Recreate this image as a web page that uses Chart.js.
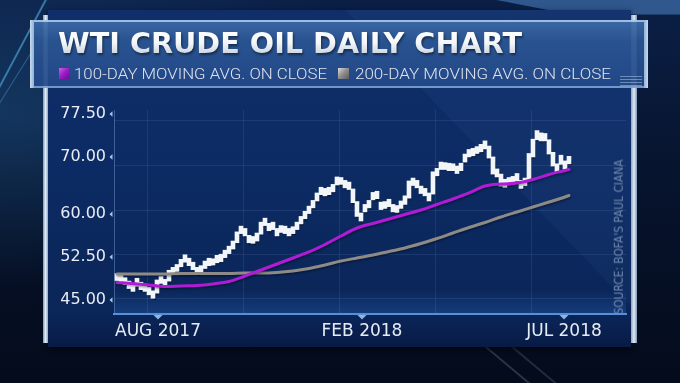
<!DOCTYPE html>
<html><head><meta charset="utf-8">
<script src="https://cdn.jsdelivr.net/npm/chart.js@4.4.1/dist/chart.umd.min.js"></script>
<style>
html,body{margin:0;padding:0;}
body{width:680px;height:383px;overflow:hidden;position:relative;background:#040c1e;font-family:"DejaVu Sans",sans-serif;}
.a{position:absolute;}
.t{white-space:nowrap;display:inline-block;}
</style></head><body>
<div class="a" style="left:0;top:0;width:680px;height:383px;background:linear-gradient(180deg,#0b1f46 0%,#07142e 45%,#040b1b 100%);"></div>
<div class="a" style="left:0;top:0;width:680px;height:383px;background:radial-gradient(ellipse at 0% 30%,rgba(40,110,170,0.35),rgba(0,0,0,0) 45%);"></div>
<div class="a" style="left:-30px;top:38px;width:110px;height:2px;background:rgba(90,185,235,0.55);transform:rotate(-62deg);"></div>
<div class="a" style="left:-40px;top:70px;width:120px;height:1px;background:rgba(90,185,235,0.35);transform:rotate(-58deg);"></div>
<div class="a" style="left:0;top:0;width:680px;height:16px;background:rgba(80,135,200,0.55);clip-path:polygon(73% 0,100% 0,100% 90%,84% 90%);"></div>
<div class="a" style="left:470px;top:362px;width:70px;height:2px;background:rgba(150,170,200,0.25);transform:rotate(40deg);"></div>
<div class="a" style="left:500px;top:365px;width:70px;height:2px;background:rgba(150,170,200,0.2);transform:rotate(40deg);"></div>
<div class="a" style="left:48px;top:10px;width:583px;height:337px;background:linear-gradient(180deg,#0f2e6a 0%,#0c2a62 55%,#0a2454 100%);box-shadow:0 2px 6px rgba(0,0,0,0.7);"></div>
<div class="a" style="left:48px;top:10px;width:583px;height:337px;background:rgba(110,160,225,0.06);clip-path:polygon(51% 0,100% 0,100% 88%);"></div>
<div class="a" style="left:114px;top:290px;width:512px;height:24px;background:linear-gradient(180deg,rgba(40,100,190,0),rgba(45,110,205,0.32));"></div>
<div class="a" style="left:48px;top:315px;width:583px;height:32px;background:linear-gradient(180deg,#0b2559,#081b45);"></div>
<div class="a" style="left:43px;top:15px;width:5px;height:328px;background:linear-gradient(90deg,#7d97b6,#e2ecf6,#8ea7c3);"></div>
<div class="a" style="left:631px;top:15px;width:6px;height:328px;background:linear-gradient(90deg,#8aa2bf,#e0eaf5,#7d96b4);"></div>
<div class="a" style="left:30px;top:20px;width:618px;height:68px;box-sizing:border-box;background:linear-gradient(180deg,#3d6aa8 0%,#2b5693 30%,#24498a 100%);border-top:2px solid rgba(185,212,240,0.9);border-bottom:2px solid rgba(150,185,225,0.7);opacity:0.93;"></div>
<div class="a" style="left:30px;top:20px;width:4px;height:68px;background:linear-gradient(90deg,#c9dbee,#8fb0d6);"></div>
<div class="a" style="left:644px;top:20px;width:4px;height:68px;background:linear-gradient(90deg,#8fb0d6,#c9dbee);"></div>
<div class="a" style="left:620px;top:76px;width:22px;height:10px;background:repeating-linear-gradient(180deg,rgba(200,220,240,0.45) 0 1px,rgba(0,0,0,0) 1px 3px);"></div>
<canvas id="c" class="a" width="680" height="383" style="left:0;top:0;width:680px;height:383px;"></canvas>
<div class="a t" id="title" style="left:58px;top:30px;font:bold 28px/28px 'DejaVu Sans';background:linear-gradient(180deg,#ffffff 0%,#f4f7fa 45%,#bfc9d4 100%);-webkit-background-clip:text;background-clip:text;color:transparent;filter:drop-shadow(1px 2px 1px rgba(0,0,0,0.45));">WTI CRUDE OIL DAILY CHART</div>
<div class="a" style="left:59px;top:68px;width:10px;height:11px;background:linear-gradient(135deg,#d060ee 0%,#9a1cc4 50%,#6c0c94 100%);"></div>
<div class="a t" id="lg1" style="left:74px;top:66px;font:300 15.5px/16px Roboto;color:#dde3ec;">100-DAY MOVING AVG. ON CLOSE</div>
<div class="a" style="left:338px;top:68px;width:11px;height:11px;background:linear-gradient(135deg,#dcdcdc 0%,#8c8c8c 50%,#5c5c5c 100%);"></div>
<div class="a t" id="lg2" style="left:355px;top:66px;font:300 15.5px/16px Roboto;color:#dde3ec;">200-DAY MOVING AVG. ON CLOSE</div>
<div class="a t" id="src" style="font:11.5px/12px 'DejaVu Sans';color:#7189b0;">SOURCE: BOFA'S PAUL CIANA</div>
<script>
// ---- data ----
const yTickValues = [45, 52.5, 60, 70, 77.5];
const xTickLabels = ['AUG 2017', 'FEB 2018', 'JUL 2018'];
const xTickDays = [10.25, 61.25, 111.75];
const gridDays = [7.5, 31.5, 55.5, 79.5, 103.5];
const gridPrices = [45.35, 53.0, 60.75, 68.6, 76.45];

const lows = [48.4,48.1,47.7,47.0,46.5,47.4,46.8,46.5,45.9,45.3,
46.2,47.9,47.3,48.3,49.5,50.0,50.8,51.6,51.0,50.3,
49.5,49.8,50.5,51.0,51.1,51.5,51.7,52.4,53.1,53.9,
55.0,56.6,56.2,55.0,54.9,55.3,56.5,58.0,57.1,57.3,
56.2,56.8,56.6,56.2,56.6,57.3,58.3,59.2,60.1,61.1,
62.3,63.4,63.2,63.4,63.9,65.1,65.2,64.6,64.3,62.0,
59.6,58.8,60.4,61.1,62.5,62.7,60.8,61.0,61.3,60.4,
60.3,61.0,61.7,62.8,65.0,64.6,63.6,63.2,62.3,63.5,
66.7,67.8,67.8,67.6,67.6,67.1,67.6,69.1,70.0,70.2,
70.6,70.9,71.4,69.8,67.0,66.5,64.9,64.7,65.1,65.3,
65.8,64.5,65.0,66.0,70.0,73.0,72.8,72.8,70.5,68.4,
67.4,68.7,67.9,68.8];
const highs = [49.6,49.3,48.9,48.3,47.8,48.8,48.1,47.7,47.2,46.6,
48.5,49.1,48.6,50.2,50.7,51.2,52.1,52.9,52.3,51.6,
50.7,51.0,51.8,52.3,52.2,52.8,53.0,53.7,54.4,55.3,
56.9,57.9,57.5,56.3,56.1,56.7,58.6,59.3,58.4,58.6,
57.5,58.0,57.9,57.5,57.8,58.6,59.6,60.5,61.4,62.4,
63.7,64.7,64.5,64.7,65.2,66.5,66.4,65.9,65.6,64.4,
62.2,60.2,61.7,62.4,63.8,64.0,62.1,62.2,62.6,61.7,
61.5,62.3,63.2,65.8,66.3,65.9,64.9,64.5,63.7,67.4,
68.0,69.1,69.0,68.9,68.8,68.4,68.9,70.5,71.3,71.5,
71.8,72.2,72.8,71.9,70.0,67.9,67.0,66.1,66.4,66.6,
67.1,65.9,66.3,70.6,73.1,74.6,74.2,74.1,73.0,70.8,
68.8,70.3,69.3,70.1];

const maDays = [0,4,8,12,16,20,24,28,32,36,40,44,48,52,56,60,64,68,72,76,80,84,88,92,96,100,104,108,112,113];
const ma100 = [48.06,47.88,47.62,47.36,47.45,47.53,47.80,48.23,49.19,50.24,
51.29,52.34,53.39,54.70,56.18,57.58,58.37,59.15,59.94,60.73,
61.69,62.65,63.70,64.92,65.27,65.44,66.06,66.93,67.63,67.80];
const ma200 = [49.54,49.54,49.54,49.54,49.63,49.63,49.63,49.63,49.72,49.72,
49.81,50.07,50.50,51.12,51.81,52.34,52.86,53.47,54.09,54.87,
55.75,56.71,57.67,58.54,59.50,60.38,61.25,62.12,63.00,63.26];

// ---- text fitting ----
function fitX(id, w){ const el=document.getElementById(id); const r=el.getBoundingClientRect().width; el.style.transformOrigin='left top'; el.style.transform='scaleX('+(w/r)+')'; }
fitX('title', 464); fitX('lg1', 253); fitX('lg2', 256);
(function(){ const el=document.getElementById('src'); const r=el.getBoundingClientRect(); const cx=619, cy=237;
  el.style.left=(cx-r.width/2)+'px'; el.style.top=(cy-r.height/2)+'px'; el.style.transformOrigin='center center';
  el.style.transform='rotate(-90deg) scaleX('+(155/r.width)+')'; })();

// ---- chart ----
const decor = {
  id:'decor',
  beforeDatasetsDraw(chart){
    const {ctx, chartArea:a, scales:{x,y}} = chart;
    ctx.save(); ctx.strokeStyle='rgba(120,160,220,0.14)'; ctx.lineWidth=1;
    gridDays.forEach(d=>{const px=Math.round(x.getPixelForValue(d))+0.5; ctx.beginPath(); ctx.moveTo(px,a.top); ctx.lineTo(px,a.bottom); ctx.stroke();});
    gridPrices.forEach(p=>{const py=Math.round(y.getPixelForValue(p))+0.5; ctx.beginPath(); ctx.moveTo(a.left,py); ctx.lineTo(a.right,py); ctx.stroke();});
    ctx.restore();
  },
  beforeDatasetDraw(chart, args){
    const ctx=chart.ctx; ctx.save();
    if(args.index===0){ ctx.shadowColor='rgba(0,0,0,0.55)'; ctx.shadowBlur=1.5; ctx.shadowOffsetX=1; ctx.shadowOffsetY=1.5; }
    else { ctx.shadowColor='rgba(0,0,0,0.35)'; ctx.shadowBlur=2; ctx.shadowOffsetX=1; ctx.shadowOffsetY=1.5; }
  },
  afterDatasetDraw(chart){ chart.ctx.restore(); },
  afterDraw(chart){
    const {ctx, chartArea:a, scales:{x,y}} = chart;
    ctx.save(); ctx.fillStyle='#a9c7ea';
    y.ticks.forEach(t=>{const py=y.getPixelForValue(t.value); ctx.beginPath(); ctx.moveTo(a.left-4.5,py); ctx.lineTo(a.left-1.5,py-2.8); ctx.lineTo(a.left-1.5,py+2.8); ctx.closePath(); ctx.fill();});
    ctx.fillStyle='#8db6e6';
    x.ticks.forEach(t=>{const px=x.getPixelForValue(t.value); ctx.beginPath(); ctx.moveTo(px-4.5,a.bottom+1); ctx.lineTo(px+4.5,a.bottom+1); ctx.lineTo(px,a.bottom+5.5); ctx.closePath(); ctx.fill();});
    ctx.restore();
  }
};

new Chart(document.getElementById('c'), {
  type:'bar',
  data:{datasets:[
    {type:'bar', label:'WTI', data: lows.map((lo,i)=>({x:i, y:[lo, highs[i]]})), backgroundColor:'#f3f6f9', borderWidth:0, barThickness:4, order:3},
    {type:'line', label:'200-DAY MOVING AVG. ON CLOSE', data: maDays.map((d,k)=>({x:d, y:ma200[k]})), borderColor:'#8e8b87', borderWidth:3, pointRadius:0, cubicInterpolationMode:'monotone', borderCapStyle:'round', borderJoinStyle:'round', order:2},
    {type:'line', label:'100-DAY MOVING AVG. ON CLOSE', data: maDays.map((d,k)=>({x:d, y:ma100[k]})), borderColor:'#b01bd6', borderWidth:3, pointRadius:0, cubicInterpolationMode:'monotone', borderCapStyle:'round', borderJoinStyle:'round', order:1}
  ]},
  options:{
    responsive:false, animation:false, devicePixelRatio:1,
    layout:{padding:{left:0, right:54, top:110, bottom:0}},
    plugins:{legend:{display:false}, tooltip:{enabled:false}},
    scales:{
      x:{type:'linear', min:-0.75, max:127.25, offset:false,
         afterBuildTicks:s=>{s.ticks=xTickDays.map(v=>({value:v}));},
         afterFit:s=>{s.height=69;},
         grid:{display:false, drawTicks:false},
         border:{display:true, color:'#5a8fd8', width:2},
         ticks:{autoSkip:false, maxRotation:0, padding:7, color:'#e6ecf4', font:{family:'DejaVu Sans', size:17},
                callback:(v,i)=>xTickLabels[i]}},
      y:{type:'linear', min:42.55, max:78.2,
         afterBuildTicks:s=>{s.ticks=yTickValues.map(v=>({value:v}));},
         afterFit:s=>{s.width=114;},
         grid:{display:false, drawTicks:false},
         border:{display:true, color:'rgba(120,160,215,0.45)', width:1},
         ticks:{padding:8, color:'#e8edf4', font:{family:'DejaVu Sans', size:16}, callback:v=>Number(v).toFixed(2)}}
    }
  },
  plugins:[decor]
});
</script>
</body></html>
